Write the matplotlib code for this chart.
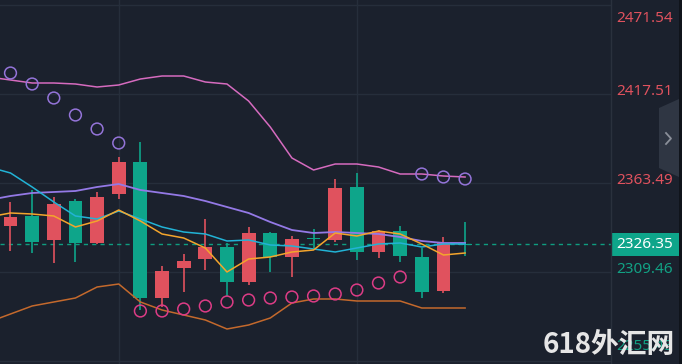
import matplotlib
matplotlib.use("Agg")
import matplotlib.pyplot as plt
import numpy as np
from matplotlib.patches import Rectangle, Polygon
from matplotlib.transforms import blended_transform_factory

# ---------------- data ----------------
opens  = [2342.85, 2327.67, 2350.74, 2327.06, 2354.99, 2376.24, 2293.67, 2310.07, 2316.14, 2324.64, 2303.39,
          2333.13, 2318.56, 2329.49, 2329.20, 2360.45, 2321.60, 2334.35, 2319.17, 2297.32, 2327.06, 2325.60]
highs  = [2351.96, 2359.24, 2354.99, 2353.78, 2358.03, 2379.27, 2388.38, 2313.10, 2320.39, 2341.63, 2327.06,
          2336.78, 2333.50, 2331.31, 2335.56, 2365.92, 2369.56, 2334.96, 2337.38, 2324.03, 2330.71, 2339.81]
lows   = [2322.21, 2320.99, 2314.92, 2315.53, 2326.50, 2353.78, 2286.39, 2288.21, 2297.32, 2310.67, 2294.89,
          2301.57, 2309.46, 2306.42, 2324.03, 2327.67, 2316.74, 2317.96, 2315.53, 2293.67, 2296.71, 2319.17]
closes = [2337.38, 2343.46, 2328.89, 2352.56, 2327.06, 2356.81, 2376.24, 2293.67, 2311.89, 2317.35, 2324.64,
          2303.39, 2333.13, 2318.56, 2329.49, 2328.89, 2361.06, 2321.60, 2334.35, 2318.56, 2297.92, 2326.35]

# indicator lines, index -1 .. 21
bb_upper = [2427.84, 2426.02, 2424.20, 2424.20, 2423.59, 2421.77, 2422.99, 2426.63, 2428.45, 2428.45, 2424.81, 2423.59,
            2413.27, 2397.49, 2378.67, 2371.38, 2375.02, 2375.02, 2373.20, 2368.95, 2368.95, 2367.74, 2367.13]
bb_mid   = [2353.17, 2355.60, 2357.42, 2358.03, 2358.63, 2361.06, 2362.88, 2359.24, 2357.42, 2355.60, 2352.56, 2348.92,
            2345.28, 2339.81, 2334.96, 2333.13, 2333.74, 2333.13, 2332.53, 2330.71, 2328.28, 2327.06, 2327.06]
bb_lower = [2279.10, 2283.96, 2288.82, 2291.25, 2293.67, 2300.35, 2302.17, 2291.25, 2286.39, 2283.35, 2280.32, 2274.85,
            2277.28, 2281.53, 2290.64, 2293.07, 2293.07, 2291.85, 2291.85, 2291.85, 2287.60, 2287.60, 2287.60]
ma_cyan  = [2373.20, 2369.56, 2361.06, 2351.96, 2343.46, 2341.63, 2346.49, 2341.63, 2336.78, 2333.74, 2332.53, 2328.28,
            2328.89, 2325.85, 2325.24, 2323.42, 2321.60, 2324.03, 2326.46, 2327.06, 2324.64, 2326.46, 2326.46]
ma_orange = [2342.85, 2345.28, 2344.67, 2343.46, 2336.78, 2340.42, 2347.10, 2340.42, 2332.53, 2330.10, 2324.03, 2309.46,
             2317.35, 2318.56, 2321.60, 2322.81, 2333.13, 2331.31, 2334.35, 2332.53, 2326.46, 2319.78, 2320.99]

# parabolic SAR
sar = [2430.27, 2423.59, 2415.09, 2404.77, 2396.27, 2387.77,
       2285.78, 2285.78, 2287.00, 2288.82, 2291.25, 2292.46, 2293.67, 2294.28, 2294.89, 2296.10, 2298.53, 2302.78, 2306.42,
       2368.95, 2367.13, 2365.92]

axis_ticks = [2471.54, 2417.51, 2363.49, 2309.46, 2255.43]
axis_labels = ["2471.54", "2417.51", "2363.49", "2309.46", "2255.43"]
last_price = 2326.35
watermark = "618外汇网"

# ---------------- style ----------------
BG = "#1b212d"
GRID = "#262e3b"
UP = "#0ea58a"
DOWN = "#e0525e"

fig = plt.figure(figsize=(6.82, 3.64), dpi=100, facecolor=BG)
ax = fig.add_axes([0, 0, 611 / 682, 1])
ax.set_facecolor(BG)
for s in ax.spines.values():
    s.set_visible(False)
ax.set_xlim(-0.485, 27.74)
ax.set_ylim(2253.60, 2474.59)
ax.set_xticks([])
ax.set_yticks([])

# grid
for p in axis_ticks:
    ax.axhline(p, color=GRID, lw=1.0, zorder=0)
for xv in [5, 16]:
    ax.axvline(xv, color=GRID, lw=1.0, zorder=0)

idx = np.arange(len(opens))
o = np.array(opens); c = np.array(closes); h = np.array(highs); l = np.array(lows)
colors = [UP if cc >= oo else DOWN for oo, cc in zip(o, c)]
bottoms = np.minimum(o, c)
heights = np.maximum(np.abs(c - o), 0.8)
ax.vlines(idx, l, h, colors=colors, lw=1.2, zorder=2)
ax.bar(idx, heights, bottom=bottoms, width=0.64, color=colors, zorder=3, linewidth=0)

line_x = np.arange(-1, len(opens))
ax.plot(line_x, bb_upper, color="#d66bbf", lw=1.1, zorder=4)
ax.plot(line_x, bb_lower, color="#c4692c", lw=1.1, zorder=4)
ax.plot(line_x, bb_mid, color="#9479e6", lw=1.3, zorder=5)
ax.plot(line_x, ma_cyan, color="#22b3d6", lw=1.1, zorder=5)
ax.plot(line_x, ma_orange, color="#f4a52c", lw=1.1, zorder=5)

sar_colors = ["#9474d9" if s > hh else "#dd3c86" for s, hh in zip(sar, highs)]
ax.scatter(idx, sar, s=72, facecolors="none", edgecolors=sar_colors, linewidths=1.1, zorder=6)

# last price dashed line
ax.axhline(last_price, color="#0f9d80", lw=1.0, linestyle=(0, (3, 3)), zorder=1)

# right price axis
tr = blended_transform_factory(fig.transFigure, ax.transData)
fig.add_artist(plt.Line2D([611 / 682, 611 / 682], [0, 1], color="#2a313d", lw=1.0, transform=fig.transFigure))
for p, lab in zip(axis_ticks, axis_labels):
    col = DOWN if p > last_price else "#12a184"
    va = "center"
    dy = 1.5
    if p == axis_ticks[0]:
        va, dy = "top", -4
    elif p == axis_ticks[-1]:
        va, dy = "bottom", 5
    ax.annotate(lab, xy=(1.0, p), xycoords=("axes fraction", "data"), xytext=(4, dy),
                textcoords="offset points", ha="left", va=va, color=col, fontsize=11,
                family="Noto Sans", annotation_clip=False, zorder=7)

# current price box
box_h = 23 * (2474.59 - 2253.60) / 364
ax.add_patch(Rectangle((611 / 682, last_price - box_h / 2), 68 / 682, box_h, transform=tr,
                       facecolor="#0ea58a", edgecolor="none", clip_on=False, zorder=8))
ax.annotate(f"{last_price:.2f}", xy=(645 / 682, last_price), xycoords=tr, ha="center", va="center",
            color="white", fontsize=11, family="Noto Sans", annotation_clip=False, zorder=9)

# side tab
tab = Polygon([(659 / 682, 1 - 108 / 364), (679 / 682, 1 - 99 / 364), (679 / 682, 1 - 177 / 364),
               (659 / 682, 1 - 168 / 364)], closed=True, transform=fig.transFigure,
              facecolor="#2f3643", edgecolor="none", zorder=5)
fig.add_artist(tab)
fig.add_artist(plt.Line2D([666 / 682, 671 / 682, 666 / 682], [1 - 133 / 364, 1 - 138.5 / 364, 1 - 144 / 364],
                          color="#8b909a", lw=1.3, transform=fig.transFigure, zorder=6))
fig.add_artist(Rectangle((679 / 682, 0), 3 / 682, 1, transform=fig.transFigure,
                         facecolor="#10141b", edgecolor="none", zorder=6))

# watermark
fig.text(675 / 682, 1 - 353 / 364, watermark, ha="right", va="baseline", fontsize=20, fontweight="heavy",
         color="#e6e6e6", family=["Noto Sans CJK SC", "DejaVu Sans"], zorder=20)

fig.savefig("out.png", dpi=100, facecolor=BG)
